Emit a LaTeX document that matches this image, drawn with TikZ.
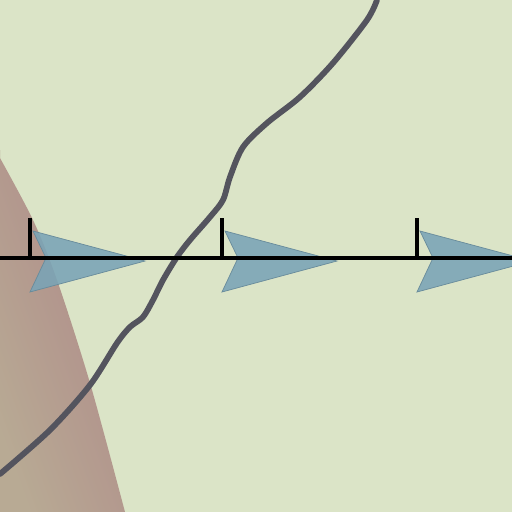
\documentclass[tikz,border=0pt]{standalone}
\definecolor{meadow}{RGB}{219,228,199}
\definecolor{ridge}{RGB}{174,135,136}
\definecolor{sand}{RGB}{184,170,148}
\definecolor{vanec}{RGB}{122,164,182}
\definecolor{trailc}{RGB}{84,84,94}
\begin{document}
\begin{tikzpicture}[x=0.02cm, y=-0.02cm,
  trail/.style={draw=trailc, line width=3.3pt, line cap=round, line join=round},
  vane/.style={fill=vanec, fill opacity=0.88, draw=vanec!85!black, line width=0.4pt},
  front/.style={draw=black, line width=2.4pt},
  mast/.style={draw=black, line width=2.4pt}]
\useasboundingbox (0,0) rectangle (512,512);
\clip (0,0) rectangle (512,512);
\fill[meadow] (0,0) rectangle (512,512);
\shade[bottom color=sand, top color=ridge, shading angle=-70] (0,150)
  -- plot[smooth] coordinates {(0,158) (33,220) (57,280) (90,383) (125,512)}
  -- (0,512) -- cycle;
\draw[trail] plot[smooth] coordinates {(377,0) (367,20) (333,63) (300,97) (267,123)
  (243,147) (230,177) (223,200) (210,217) (190,240) (177,257) (163,280) (153,300)
  (143,317) (130,327) (117,343) (90,385) (50,430) (0,474)};
\foreach \x/\n in {30/a, 222/b, 417/c} {
  \filldraw[vane] (\x+3,231) -- (\x+115,261) -- (\x,292) -- (\x+16,258) -- cycle;
  \coordinate (mast\n) at (\x,258);
}
\draw[front] (0,258) -- (512,258);
\foreach \n in {a,b,c}
  \draw[mast] ([yshift=1pt]mast\n) -- ++(0,-38);
\end{tikzpicture}
\end{document}
